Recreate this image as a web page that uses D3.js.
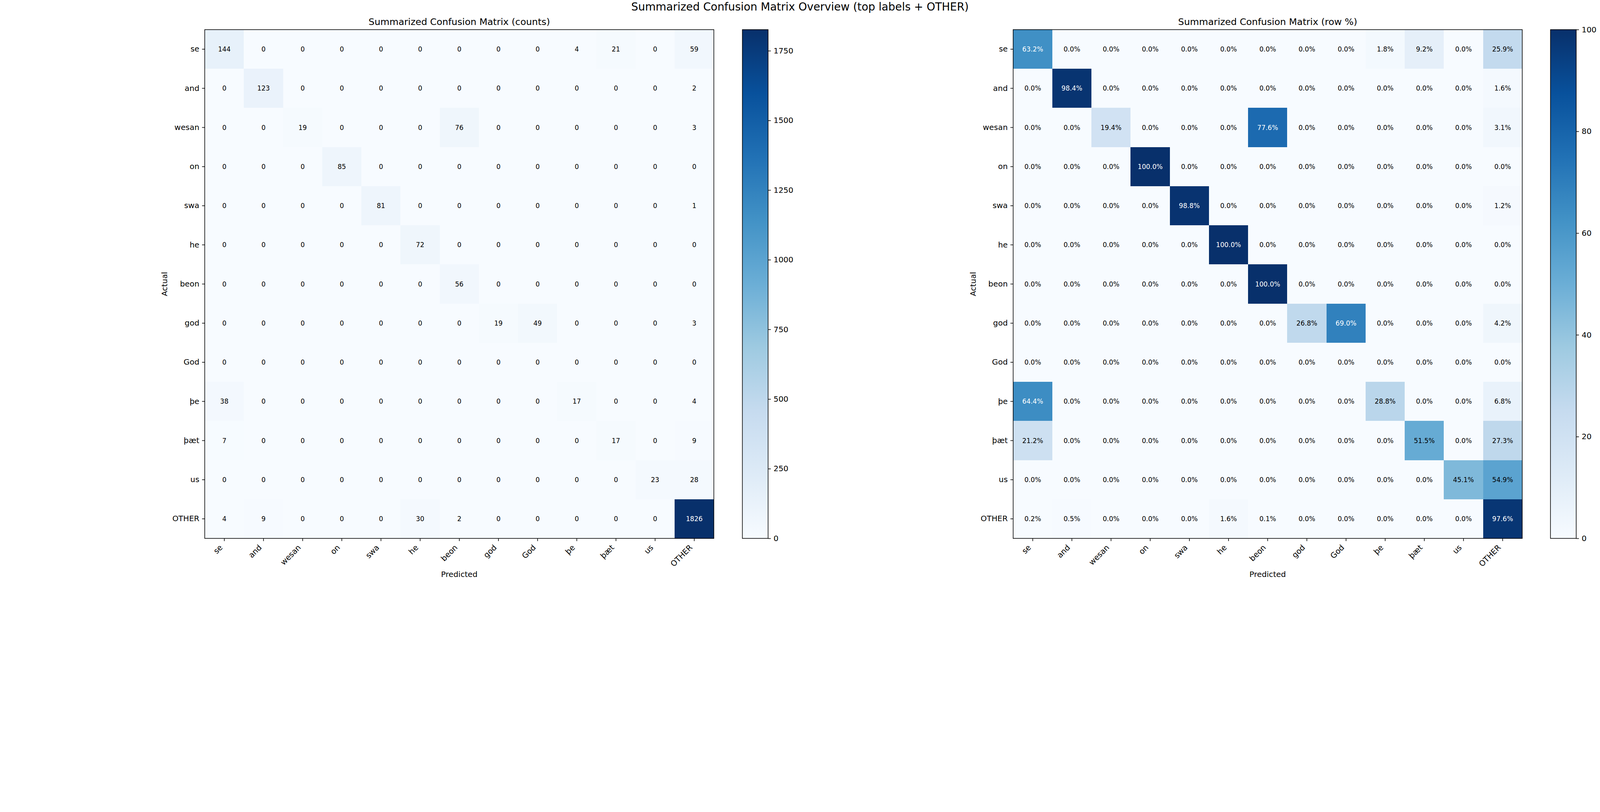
<!DOCTYPE html>
<html>
<head>
<meta charset="utf-8">
<script src="https://cdn.jsdelivr.net/npm/d3@7"></script>
<style>
  html, body { margin: 0; padding: 0; background: #fff; overflow: hidden; }
  #chart { display: block; width: 100vw; height: calc(100vw * 2080 / 5720); }
  text { font-family: "DejaVu Sans", sans-serif; }
</style>
</head>
<body>
<svg id="chart" viewBox="0 0 5720 2080" preserveAspectRatio="xMinYMin meet"></svg>
<script>
// labels shared by both axes (actual = rows, predicted = columns)
const labels = ['se', 'and', 'wesan', 'on', 'swa', 'he', 'beon', 'god', 'God', 'þe', 'þæt', 'us', 'OTHER'];

// raw counts, one row per actual label
const counts = [
  [144, 0, 0, 0, 0, 0, 0, 0, 0, 4, 21, 0, 59],
  [0, 123, 0, 0, 0, 0, 0, 0, 0, 0, 0, 0, 2],
  [0, 0, 19, 0, 0, 0, 76, 0, 0, 0, 0, 0, 3],
  [0, 0, 0, 85, 0, 0, 0, 0, 0, 0, 0, 0, 0],
  [0, 0, 0, 0, 81, 0, 0, 0, 0, 0, 0, 0, 1],
  [0, 0, 0, 0, 0, 72, 0, 0, 0, 0, 0, 0, 0],
  [0, 0, 0, 0, 0, 0, 56, 0, 0, 0, 0, 0, 0],
  [0, 0, 0, 0, 0, 0, 0, 19, 49, 0, 0, 0, 3],
  [0, 0, 0, 0, 0, 0, 0, 0, 0, 0, 0, 0, 0],
  [38, 0, 0, 0, 0, 0, 0, 0, 0, 17, 0, 0, 4],
  [7, 0, 0, 0, 0, 0, 0, 0, 0, 0, 17, 0, 9],
  [0, 0, 0, 0, 0, 0, 0, 0, 0, 0, 0, 23, 28],
  [4, 9, 0, 0, 0, 30, 2, 0, 0, 0, 0, 0, 1826]
];

// row percentages as printed in the right panel
const rowPct = [
  [63.2, 0, 0, 0, 0, 0, 0, 0, 0, 1.8, 9.2, 0, 25.9],
  [0, 98.4, 0, 0, 0, 0, 0, 0, 0, 0, 0, 0, 1.6],
  [0, 0, 19.4, 0, 0, 0, 77.6, 0, 0, 0, 0, 0, 3.1],
  [0, 0, 0, 100, 0, 0, 0, 0, 0, 0, 0, 0, 0],
  [0, 0, 0, 0, 98.8, 0, 0, 0, 0, 0, 0, 0, 1.2],
  [0, 0, 0, 0, 0, 100, 0, 0, 0, 0, 0, 0, 0],
  [0, 0, 0, 0, 0, 0, 100, 0, 0, 0, 0, 0, 0],
  [0, 0, 0, 0, 0, 0, 0, 26.8, 69.0, 0, 0, 0, 4.2],
  [0, 0, 0, 0, 0, 0, 0, 0, 0, 0, 0, 0, 0],
  [64.4, 0, 0, 0, 0, 0, 0, 0, 0, 28.8, 0, 0, 6.8],
  [21.2, 0, 0, 0, 0, 0, 0, 0, 0, 0, 51.5, 0, 27.3],
  [0, 0, 0, 0, 0, 0, 0, 0, 0, 0, 0, 45.1, 54.9],
  [0.2, 0.5, 0, 0, 0, 1.6, 0.1, 0, 0, 0, 0, 0, 97.6]
];

const countTicks = [0, 250, 500, 750, 1000, 1250, 1500, 1750];
const pctTicks = [0, 20, 40, 60, 80, 100];

// matplotlib "Blues" anchor colours
const blues = ['#f7fbff', '#deebf7', '#c6dbef', '#9ecae1', '#6baed6', '#4292c6', '#2171b5', '#08519c', '#08306b'];

const svg = d3.select('#chart');

const topY = 106;
const size = 1820;
const tickLen = 9.7;
const tickPad = 9.7;
const lw = 2.2;
const tickFont = 27.8;

svg.append('rect').attr('width', 5720).attr('height', 2080).attr('fill', 'white');

svg.append('text')
  .attr('x', 2860).attr('y', 38)
  .attr('text-anchor', 'middle')
  .attr('font-size', 38.9)
  .text('Summarized Confusion Matrix Overview (top labels + OTHER)');

const defs = svg.append('defs');

const panels = [
  { id: 'cnt', left: 732, cbLeft: 2654, data: counts, vmax: 1826, ticks: countTicks,
    fmt: d => String(d), title: 'Summarized Confusion Matrix (counts)' },
  { id: 'pct', left: 3622, cbLeft: 5543, data: rowPct, vmax: 100, ticks: pctTicks,
    fmt: d => d.toFixed(1) + '%', title: 'Summarized Confusion Matrix (row %)' }
];

const drawPanel = p => {
  const color = d3.scaleLinear()
    .domain(blues.map((c, i) => p.vmax * i / (blues.length - 1)))
    .range(blues)
    .interpolate(d3.interpolateRgb)
    .clamp(true);

  const x = d3.scaleBand().domain(labels).range([0, size]);
  const y = d3.scaleBand().domain(labels).range([0, size]);

  const g = svg.append('g').attr('transform', `translate(${p.left}, ${topY})`);

  const cells = [];
  p.data.forEach((row, i) => row.forEach((v, j) => cells.push({ r: labels[i], c: labels[j], v })));

  g.selectAll('rect.cell').data(cells)
    .enter().append('rect')
    .attr('class', 'cell')
    .attr('x', d => x(d.c))
    .attr('y', d => y(d.r))
    .attr('width', x.bandwidth() + 0.5)
    .attr('height', y.bandwidth() + 0.5)
    .attr('fill', d => color(d.v))
    .attr('shape-rendering', 'crispEdges');

  g.selectAll('text.val').data(cells)
    .enter().append('text')
    .attr('class', 'val')
    .attr('x', d => x(d.c) + x.bandwidth() / 2)
    .attr('y', d => y(d.r) + y.bandwidth() / 2)
    .attr('text-anchor', 'middle')
    .attr('dominant-baseline', 'central')
    .attr('font-size', 23.5)
    .attr('fill', d => d.v > p.vmax * 0.6 ? 'white' : 'black')
    .text(d => p.fmt(d.v));

  // axes
  const xAxis = g.append('g')
    .attr('transform', `translate(0, ${size})`)
    .call(d3.axisBottom(x).tickSize(tickLen).tickPadding(tickPad));
  xAxis.select('.domain').remove();
  xAxis.attr('font-size', tickFont).attr('font-family', null);
  xAxis.selectAll('line').attr('stroke-width', lw);
  xAxis.selectAll('text')
    .attr('y', null).attr('dy', null)
    .attr('text-anchor', 'end')
    .attr('transform', `translate(-4.7, ${tickLen + tickPad + 15}) rotate(-45)`);

  const yAxis = g.append('g')
    .call(d3.axisLeft(y).tickSize(tickLen).tickPadding(tickPad));
  yAxis.select('.domain').remove();
  yAxis.attr('font-size', tickFont).attr('font-family', null);
  yAxis.selectAll('line').attr('stroke-width', lw);

  g.append('rect')
    .attr('width', size).attr('height', size)
    .attr('fill', 'none').attr('stroke', 'black').attr('stroke-width', lw);

  g.append('text')
    .attr('x', size / 2).attr('y', -17)
    .attr('text-anchor', 'middle')
    .attr('font-size', 33.3)
    .text(p.title);

  g.append('text')
    .attr('x', size / 2).attr('y', size + 129)
    .attr('text-anchor', 'middle')
    .attr('dominant-baseline', 'central')
    .attr('font-size', tickFont)
    .text('Predicted');

  g.append('text')
    .attr('transform', `translate(-143, ${size / 2}) rotate(-90)`)
    .attr('text-anchor', 'middle')
    .attr('dominant-baseline', 'central')
    .attr('font-size', tickFont)
    .text('Actual');

  // colorbar
  const cbW = 92;
  const grad = defs.append('linearGradient')
    .attr('id', 'grad-' + p.id)
    .attr('x1', 0).attr('y1', 1).attr('x2', 0).attr('y2', 0);
  grad.selectAll('stop').data(blues)
    .enter().append('stop')
    .attr('offset', (d, i) => i / (blues.length - 1))
    .attr('stop-color', d => d);

  const cb = svg.append('g').attr('transform', `translate(${p.cbLeft}, ${topY})`);
  cb.append('rect')
    .attr('width', cbW).attr('height', size)
    .attr('fill', `url(#grad-${p.id})`);

  const cScale = d3.scaleLinear().domain([0, p.vmax]).range([size, 0]);
  const cAxis = cb.append('g')
    .attr('transform', `translate(${cbW}, 0)`)
    .call(d3.axisRight(cScale).tickValues(p.ticks).tickFormat(d3.format('d'))
      .tickSize(tickLen).tickPadding(tickPad));
  cAxis.select('.domain').remove();
  cAxis.attr('font-size', tickFont).attr('font-family', null);
  cAxis.selectAll('line').attr('stroke-width', lw);

  cb.append('rect')
    .attr('width', cbW).attr('height', size)
    .attr('fill', 'none').attr('stroke', 'black').attr('stroke-width', lw);
};

panels.forEach(drawPanel);
</script>
</body>
</html>
